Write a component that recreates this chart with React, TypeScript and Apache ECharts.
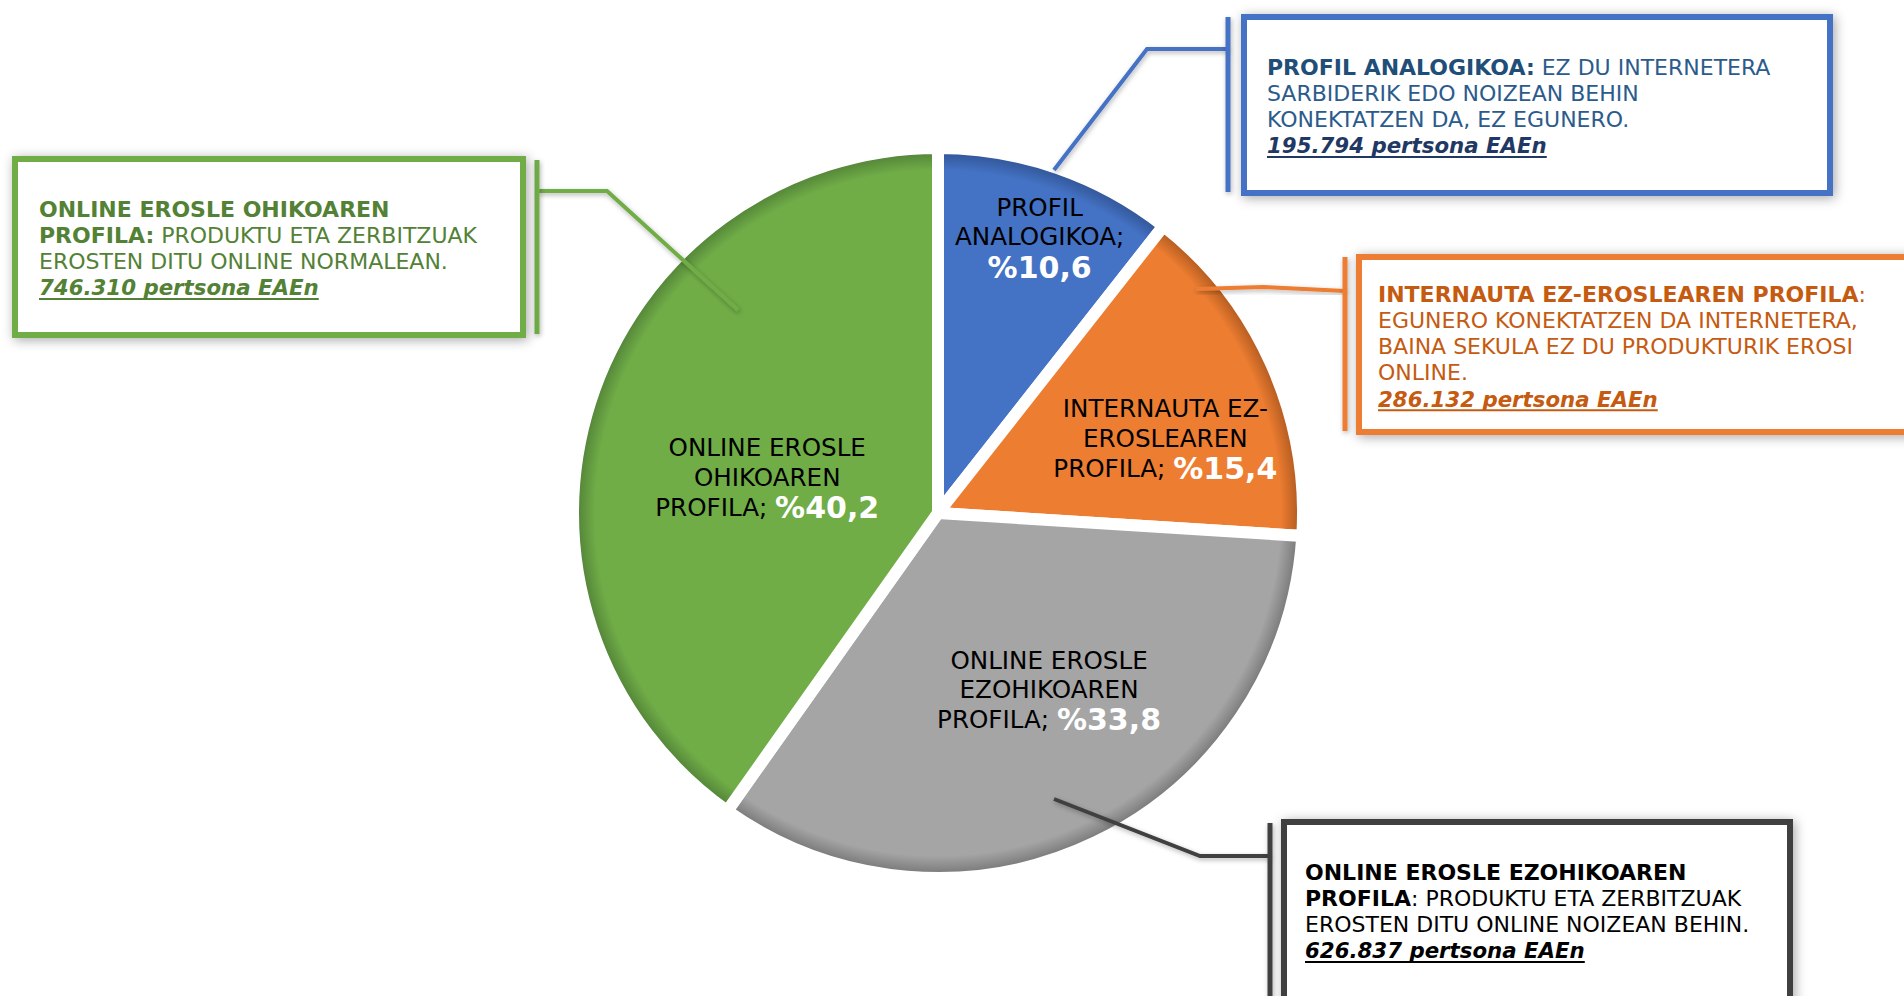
import React, { useEffect, useRef } from 'react';
import * as echarts from 'echarts';

// ---------- data ----------
const categories = [
  'PROFIL ANALOGIKOA',
  'INTERNAUTA EZ-EROSLEAREN PROFILA',
  'ONLINE EROSLE EZOHIKOAREN PROFILA',
  'ONLINE EROSLE OHIKOAREN PROFILA',
];
const shares = [10.6, 15.4, 33.8, 40.2];
const sliceLabelLines = [
  ['PROFIL', 'ANALOGIKOA;', ''],
  ['INTERNAUTA EZ-', 'EROSLEAREN', 'PROFILA; '],
  ['ONLINE EROSLE', 'EZOHIKOAREN', 'PROFILA; '],
  ['ONLINE EROSLE', 'OHIKOAREN', 'PROFILA; '],
];
const persons = ['195.794', '286.132', '626.837', '746.310'];
const personsSuffix = ' pertsona EAEn';
const calloutTexts: [string, string][][][] = [
  [
    [['h', 'PROFIL ANALOGIKOA:'], ['b', ' EZ DU INTERNETERA']],
    [['b', 'SARBIDERIK EDO NOIZEAN BEHIN']],
    [['b', 'KONEKTATZEN DA, EZ EGUNERO.']],
  ],
  [
    [['h', 'INTERNAUTA EZ-EROSLEAREN PROFILA'], ['b', ':']],
    [['b', 'EGUNERO KONEKTATZEN DA INTERNETERA,']],
    [['b', 'BAINA SEKULA EZ DU PRODUKTURIK EROSI']],
    [['b', 'ONLINE.']],
  ],
  [
    [['h', 'ONLINE EROSLE EZOHIKOAREN']],
    [['h', 'PROFILA'], ['b', ': PRODUKTU ETA ZERBITZUAK']],
    [['b', 'EROSTEN DITU ONLINE NOIZEAN BEHIN.']],
  ],
  [
    [['h', 'ONLINE EROSLE OHIKOAREN']],
    [['h', 'PROFILA:'], ['b', ' PRODUKTU ETA ZERBITZUAK']],
    [['b', 'EROSTEN DITU ONLINE NORMALEAN.']],
  ],
];

// ---------- styles & layout ----------
const FONT = '"DejaVu Sans", Verdana, sans-serif';
const sliceColors = ['#4472C4', '#ED7D31', '#A5A5A5', '#70AD47'];
const sliceEdgeColors = ['#34599C', '#B95F22', '#7E7E7E', '#56883A'];
const calloutColors = ['#4472C4', '#ED7D31', '#404040', '#70AD47'];
const textColors = [
  { h: '#1F4E79', b: '#2B5B8C', n: '#1F3864' },
  { h: '#C55A11', b: '#C55A11', n: '#C55A11' },
  { h: '#000000', b: '#000000', n: '#000000' },
  { h: '#538135', b: '#538135', n: '#538135' },
];
const PIE_CENTER = [938, 513];
const GAP = 12;
const VISIBLE_RADIUS = 359;
const labelShift = [
  [41, -100],
  [58, 2],
  [31, 10],
  [6, 21],
];
const callouts = [
  { box: [1244, 17, 586, 176], bar: [1228, 17, 192], line: [[1054, 170], [1147, 49], [1228, 49]], textX: 1267, textY: 67 },
  { box: [1359, 257, 600, 175], bar: [1345, 257, 431], line: [[1196, 289], [1263, 287], [1345, 291]], textX: 1378, textY: 294 },
  { box: [1284, 822, 506, 300], bar: [1270, 823, 1000], line: [[1054, 799], [1200, 856], [1270, 856]], textX: 1305, textY: 872 },
  { box: [15, 159, 508, 176], bar: [537, 160, 334], line: [[738, 310], [607, 191], [537, 191]], textX: 39, textY: 209 },
];
const LINE_GAP = 26.3;
const BOX_FONT = 22;
const NUM_FONT = 21.3;

export default function App() {
  const ref = useRef<HTMLDivElement>(null);

  useEffect(() => {
    const chart = echarts.init(ref.current!, null, { renderer: 'svg' });
    const ctx = document.createElement('canvas').getContext('2d')!;
    const measure = (t: string, f: string) => {
      ctx.font = f;
      return ctx.measureText(t).width;
    };

    const graphics: any[] = [];
    callouts.forEach((c, i) => {
      const col = calloutColors[i];
      const tc = textColors[i];
      graphics.push({
        type: 'polyline', z: 50,
        shape: { points: c.line },
        style: {
          stroke: col, lineWidth: 4, fill: null,
          shadowBlur: 5, shadowColor: 'rgba(0,0,0,0.3)', shadowOffsetX: 1, shadowOffsetY: 2,
        },
      });
      graphics.push({
        type: 'rect', z: 50,
        shape: { x: c.bar[0] - 2.5, y: c.bar[1], width: 5, height: c.bar[2] - c.bar[1] },
        style: {
          fill: col,
          shadowBlur: 5, shadowColor: 'rgba(0,0,0,0.3)', shadowOffsetX: 1, shadowOffsetY: 2,
        },
      });
      graphics.push({
        type: 'rect', z: 51,
        shape: { x: c.box[0], y: c.box[1], width: c.box[2], height: c.box[3] },
        style: {
          fill: '#fff', stroke: col, lineWidth: 6,
          shadowBlur: 12, shadowColor: 'rgba(0,0,0,0.35)', shadowOffsetX: 2, shadowOffsetY: 2,
        },
      });
      calloutTexts[i].forEach((segs, j) => {
        const text = segs.map(([k, t]) => `{${k}|${t}}`).join('');
        graphics.push({
          type: 'text', z: 52,
          x: c.textX, y: c.textY + j * LINE_GAP,
          style: {
            text,
            align: 'left', verticalAlign: 'middle',
            textAlign: 'left', textVerticalAlign: 'middle',
            fontFamily: FONT, fontSize: BOX_FONT,
            rich: {
              h: { fontFamily: FONT, fontSize: BOX_FONT, fontWeight: 'bold', fill: tc.h },
              b: { fontFamily: FONT, fontSize: BOX_FONT, fontWeight: 'normal', fill: tc.b },
            },
          },
        });
      });
      const ny = c.textY + calloutTexts[i].length * LINE_GAP;
      const numText = persons[i] + personsSuffix;
      const nf = `italic bold ${NUM_FONT}px ${FONT}`;
      graphics.push({
        type: 'text', z: 52,
        x: c.textX, y: ny,
        style: {
          text: numText,
          fontFamily: FONT, fontSize: NUM_FONT, fontWeight: 'bold', fontStyle: 'italic',
          fill: tc.n,
          align: 'left', verticalAlign: 'middle',
          textAlign: 'left', textVerticalAlign: 'middle',
        },
      });
      const w = measure(numText, nf);
      graphics.push({
        type: 'rect', z: 52,
        shape: { x: c.textX, y: ny + 10, width: w, height: 2 },
        style: { fill: tc.n },
      });
    });

    chart.setOption({
      animation: false,
      backgroundColor: '#ffffff',
      series: [
        {
          type: 'pie',
          center: PIE_CENTER,
          radius: VISIBLE_RADIUS + GAP / 2,
          startAngle: 90,
          clockwise: true,
          silent: true,
          data: categories.map((name, i) => ({
            name,
            value: shares[i],
            itemStyle: {
              color: {
                type: 'radial',
                x: PIE_CENTER[0],
                y: PIE_CENTER[1],
                r: VISIBLE_RADIUS,
                global: true,
                colorStops: [
                  { offset: 0, color: sliceColors[i] },
                  { offset: 0.955, color: sliceColors[i] },
                  { offset: 1, color: sliceEdgeColors[i] },
                ],
              },
            },
          })),
          itemStyle: {
            borderColor: '#ffffff',
            borderWidth: GAP,
          },
          label: {
            show: true,
            position: 'inside',
            align: 'center',
            formatter: (p: any) => {
              const lines = sliceLabelLines[p.dataIndex];
              const pct = '%' + Number(p.value).toFixed(1).replace('.', ',');
              const head = lines.slice(0, -1).map((l) => `{n|${l}}`).join('\n');
              const last = lines[lines.length - 1];
              return head + '\n' + (last ? `{n|${last}}` : '') + `{p|${pct}}`;
            },
            rich: {
              n: { fontFamily: FONT, fontSize: 24.6, color: '#000000', lineHeight: 29.5 },
              p: { fontFamily: FONT, fontSize: 30, fontWeight: 'bold', color: '#ffffff', lineHeight: 31 },
            },
          },
          labelLine: { show: false },
          labelLayout: (params: any) => ({
            dx: labelShift[params.dataIndex][0],
            dy: labelShift[params.dataIndex][1],
          }),
          emphasis: { scale: false },
        },
      ],
      graphic: { elements: graphics },
    });

    return () => chart.dispose();
  }, []);

  return (
    <div
      ref={ref}
      style={{ position: 'fixed', left: 0, top: 0, width: 1904, height: 996, background: '#fff' }}
    />
  );
}
